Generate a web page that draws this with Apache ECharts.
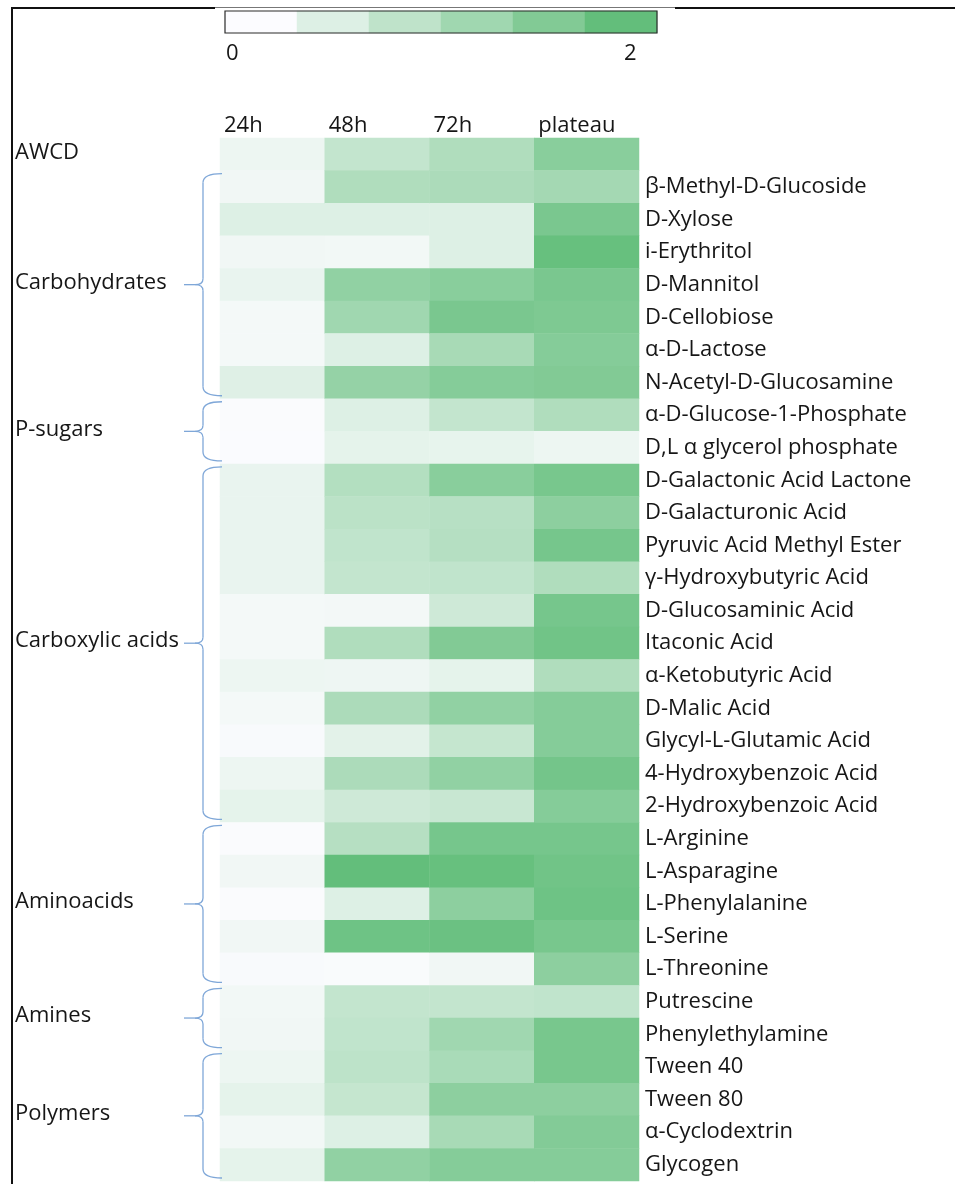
<!DOCTYPE html>
<html><head><meta charset="utf-8">
<script src="https://cdn.jsdelivr.net/npm/echarts@6/dist/echarts.min.js"></script>
<style>html,body{margin:0;padding:0;background:#fff}#c{width:955px;height:1184px}</style>
</head><body><div id="c"></div>
<script>
const timePoints = ['24h', '48h', '72h', 'plateau'];
const substrates = [
  'AWCD', 'β-Methyl-D-Glucoside', 'D-Xylose', 'i-Erythritol', 'D-Mannitol', 'D-Cellobiose',
  'α-D-Lactose', 'N-Acetyl-D-Glucosamine', 'α-D-Glucose-1-Phosphate', 'D,L α glycerol phosphate',
  'D-Galactonic Acid Lactone', 'D-Galacturonic Acid', 'Pyruvic Acid Methyl Ester', 'γ-Hydroxybutyric Acid',
  'D-Glucosaminic Acid', 'Itaconic Acid', 'α-Ketobutyric Acid', 'D-Malic Acid', 'Glycyl-L-Glutamic Acid',
  '4-Hydroxybenzoic Acid', '2-Hydroxybenzoic Acid', 'L-Arginine', 'L-Asparagine', 'L-Phenylalanine',
  'L-Serine', 'L-Threonine', 'Putrescine', 'Phenylethylamine', 'Tween 40', 'Tween 80',
  'α-Cyclodextrin', 'Glycogen'
];
const v24h = [0.2, 0.15, 0.4, 0.15, 0.25, 0.1, 0.1, 0.38, 0.03, 0.02, 0.25, 0.25, 0.25, 0.25, 0.1, 0.1,
  0.2, 0.1, 0.05, 0.2, 0.3, 0.03, 0.15, 0.03, 0.15, 0.05, 0.13, 0.15, 0.2, 0.3, 0.13, 0.3];
const v48h = [0.75, 1.0, 0.4, 0.13, 1.4, 1.2, 0.4, 1.35, 0.4, 0.3, 0.95, 0.85, 0.78, 0.75, 0.12, 1.0,
  0.18, 1.05, 0.33, 1.05, 0.6, 0.92, 2.0, 0.4, 1.85, 0.04, 0.75, 0.78, 0.82, 0.72, 0.4, 1.4];
const v72h = [1.0, 1.05, 0.4, 0.4, 1.5, 1.7, 1.1, 1.55, 0.75, 0.27, 1.5, 0.9, 0.93, 0.78, 0.6, 1.6,
  0.3, 1.4, 0.72, 1.4, 0.68, 1.75, 1.95, 1.45, 1.9, 0.15, 0.75, 1.2, 1.08, 1.45, 1.1, 1.55];
const vPlateau = [1.5, 1.15, 1.7, 1.95, 1.7, 1.65, 1.55, 1.6, 1.0, 0.2, 1.72, 1.45, 1.75, 1.0, 1.75, 1.82,
  1.0, 1.55, 1.55, 1.78, 1.55, 1.75, 1.82, 1.85, 1.72, 1.45, 0.78, 1.72, 1.72, 1.45, 1.58, 1.55];
const groupNames = ['AWCD', 'Carbohydrates', 'P-sugars', 'Carboxylic acids', 'Aminoacids', 'Amines', 'Polymers'];
const groupFirstRow = [0, 1, 8, 10, 21, 26, 28];
const groupLastRow = [0, 7, 9, 20, 25, 27, 31];
const scaleMin = 0, scaleMax = 2;
const scaleTickLabels = ['0', '2'];
const legendSteps = [0, 0.4, 0.8, 1.2, 1.6, 2.0];

const FONT = '"Open Sans", "Noto Sans", sans-serif';
const FS = 22;
const TXT = '#161616';
const chart = echarts.init(document.getElementById('c'), null, {renderer: 'canvas'});

const columns = [v24h, v48h, v72h, vPlateau];
const cells = [];
columns.forEach((col, j) => col.forEach((v, i) => cells.push([j, i, v])));
const legendCells = legendSteps.map((v, k) => [k, 0, v]);

const mainGrid = {left: 220, top: 138, width: 419, height: 1043};
const legGrid = {left: 225, top: 11, width: 432, height: 22};

chart.setOption({
  animation: false,
  backgroundColor: '#ffffff',
  grid: [
    Object.assign({containLabel: false}, mainGrid),
    Object.assign({containLabel: false}, legGrid)
  ],
  xAxis: [
    {type: 'category', gridIndex: 0, data: timePoints, show: false},
    {type: 'value', gridIndex: 0, position: 'top', min: 0, max: timePoints.length, interval: 1,
      axisLine: {show: false}, axisTick: {show: false}, splitLine: {show: false},
      axisLabel: {show: true, margin: 1, align: 'left', padding: [0, 0, 0, 4],
        fontFamily: FONT, fontSize: FS, color: TXT,
        formatter: v => timePoints[v] || ''}},
    {type: 'category', gridIndex: 1, data: legendSteps.map(String), show: false}
  ],
  yAxis: [
    {type: 'category', gridIndex: 0, data: substrates, inverse: true, position: 'right',
      axisLine: {show: false}, axisTick: {show: false}, splitLine: {show: false},
      axisLabel: {margin: 6, align: 'left', fontFamily: FONT, fontSize: FS, color: TXT,
        formatter: (v, i) => i === 0 ? '' : v}},
    {type: 'category', gridIndex: 1, data: [''], show: false}
  ],
  visualMap: {
    type: 'continuous', show: false, min: scaleMin, max: scaleMax, seriesIndex: [0, 1],
    inRange: {color: ['#FCFCFF', '#63BE7B']}
  },
  series: [
    {type: 'heatmap', xAxisIndex: 0, yAxisIndex: 0, data: cells, itemStyle: {borderWidth: 0},
      emphasis: {disabled: true}},
    {type: 'heatmap', xAxisIndex: 2, yAxisIndex: 1, data: legendCells, itemStyle: {borderWidth: 0},
      emphasis: {disabled: true}}
  ]
});

// decorations positioned from the axes
const yc = i => chart.convertToPixel({yAxisIndex: 0}, i);
const xc = j => chart.convertToPixel({xAxisIndex: 0}, j);
const rowH = yc(1) - yc(0);
const colW = xc(1) - xc(0);
const heatLeft = xc(0) - colW / 2;
const g = [];
const braceStyle = {stroke: '#7fa7d8', lineWidth: 1.3, fill: null};
const xr = heatLeft + 2, xv = heatLeft - 17, xt = heatLeft - 36, r = 9;
groupNames.forEach((name, k) => {
  const a = groupFirstRow[k], b = groupLastRow[k];
  const top = yc(a) - rowH / 2 + 3, bot = yc(b) + rowH / 2 - 3, mid = (top + bot) / 2;
  const labelY = a === b ? yc(a) + 3 : mid + 3;
  g.push({type: 'text', left: 15, top: labelY - 16, z: 50,
    style: {text: name, fontFamily: FONT, fontSize: FS, fill: TXT}});
  if (a !== b) {
    g.push({type: 'bezierCurve', z: 40, shape: {x1: xr, y1: top, cpx1: xv, cpy1: top, x2: xv, y2: top + r}, style: braceStyle});
    g.push({type: 'line', z: 40, shape: {x1: xv, y1: top + r, x2: xv, y2: mid - 6}, style: braceStyle});
    g.push({type: 'bezierCurve', z: 40, shape: {x1: xv, y1: mid - 6, cpx1: xv, cpy1: mid, x2: xv - 8, y2: mid}, style: braceStyle});
    g.push({type: 'line', z: 40, shape: {x1: xv - 8, y1: mid, x2: xt, y2: mid}, style: braceStyle});
    g.push({type: 'bezierCurve', z: 40, shape: {x1: xv - 8, y1: mid, cpx1: xv, cpy1: mid, x2: xv, y2: mid + 6}, style: braceStyle});
    g.push({type: 'line', z: 40, shape: {x1: xv, y1: mid + 6, x2: xv, y2: bot - r}, style: braceStyle});
    g.push({type: 'bezierCurve', z: 40, shape: {x1: xv, y1: bot - r, cpx1: xv, cpy1: bot, x2: xr, y2: bot}, style: braceStyle});
  }
});
// legend bar frame and tick labels
g.push({type: 'rect', z: 60, shape: {x: legGrid.left, y: legGrid.top, width: legGrid.width, height: legGrid.height},
  style: {fill: null, stroke: '#2a2a2a', lineWidth: 1.2}});
g.push({type: 'text', left: legGrid.left + 1, top: 43, z: 50,
  style: {text: scaleTickLabels[0], fontFamily: FONT, fontSize: FS, fill: TXT}});
g.push({type: 'text', left: legGrid.left + legGrid.width - 33, top: 43, z: 50,
  style: {text: scaleTickLabels[1], fontFamily: FONT, fontSize: FS, fill: TXT}});
// outer frame
g.push({type: 'line', z: 70, shape: {x1: 12, y1: 8, x2: 12, y2: 1184}, style: {stroke: '#111', lineWidth: 2}});
g.push({type: 'line', z: 70, shape: {x1: 11, y1: 8, x2: 215, y2: 8}, style: {stroke: '#111', lineWidth: 2}});
g.push({type: 'line', z: 70, shape: {x1: 215, y1: 7.5, x2: 675, y2: 7.5}, style: {stroke: '#777', lineWidth: 1}});
g.push({type: 'line', z: 70, shape: {x1: 675, y1: 8, x2: 955, y2: 8}, style: {stroke: '#111', lineWidth: 2}});
chart.setOption({graphic: g});
</script></body></html>
